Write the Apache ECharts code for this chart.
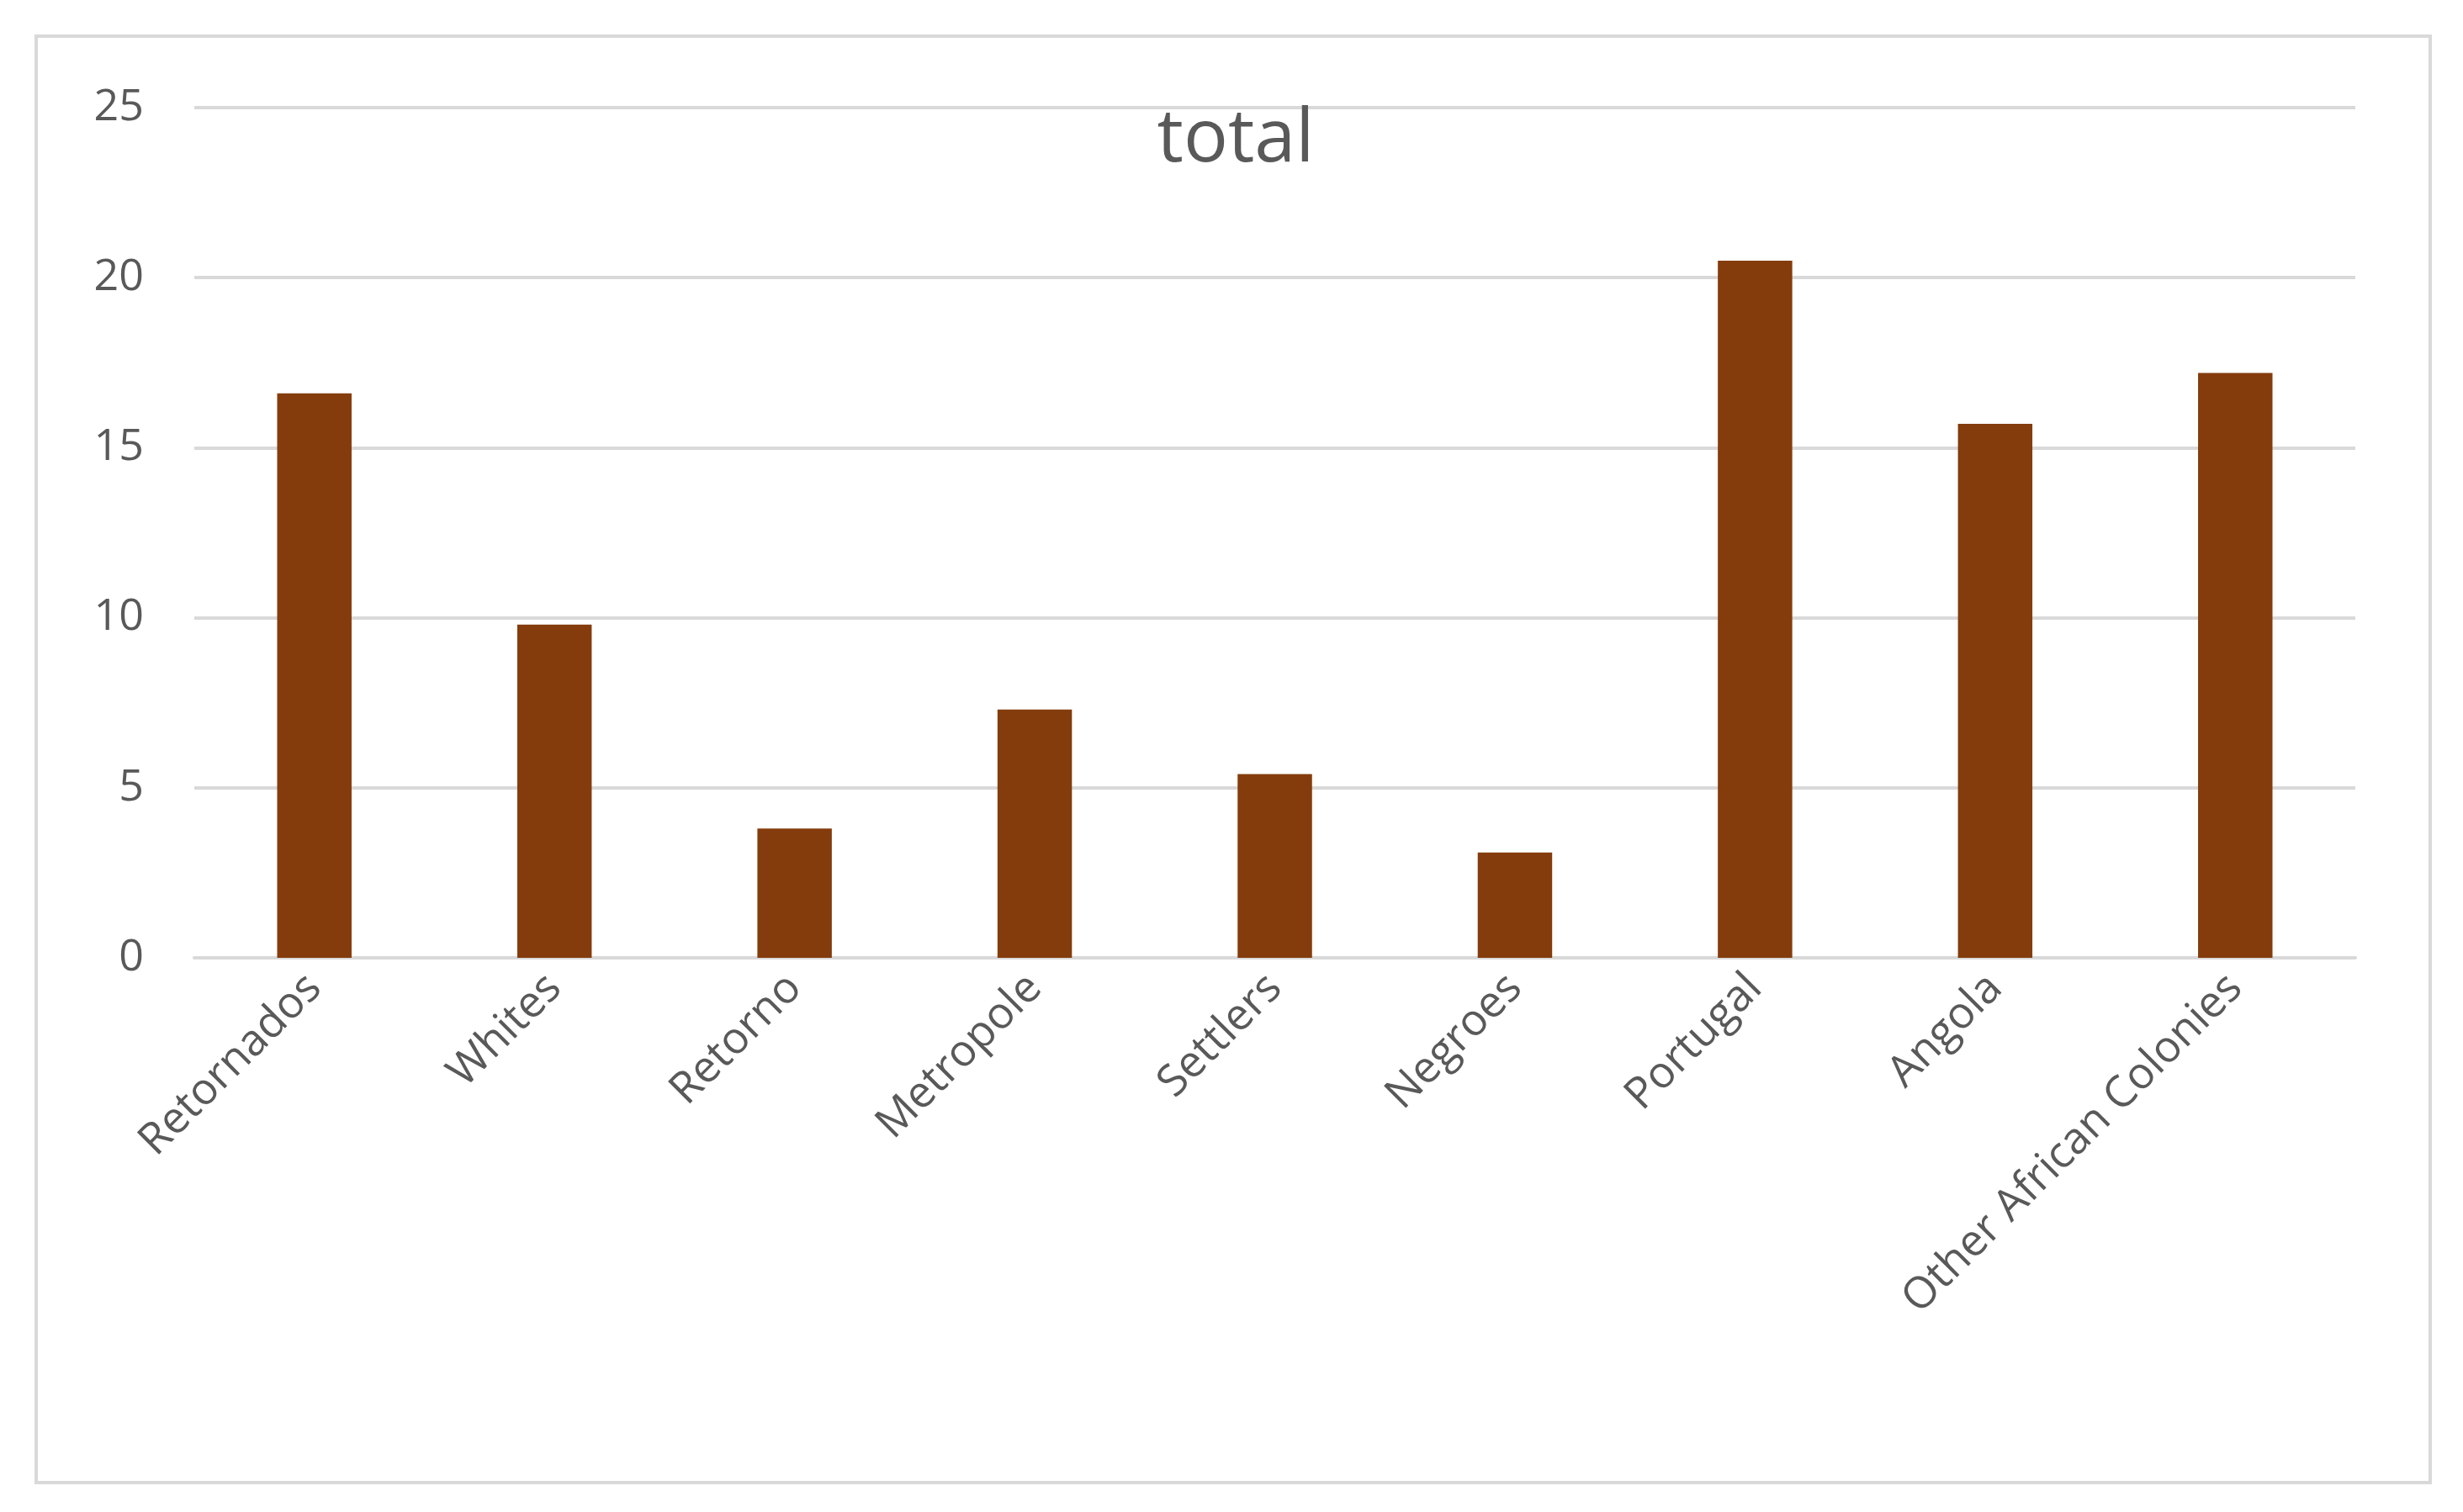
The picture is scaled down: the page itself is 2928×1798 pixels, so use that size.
<!DOCTYPE html>
<html>
<head>
<meta charset="utf-8">
<script src="https://cdn.jsdelivr.net/npm/echarts@6/dist/echarts.min.js"></script>
<style>
  html, body { margin: 0; padding: 0; background: #fff; }
  #frame { position: absolute; left: 41px; top: 41px; width: 2842px; height: 1716px; border: 4px solid #d9d9d9; }
  #chart { position: absolute; left: 0; top: 0; width: 2928px; height: 1798px; }
</style>
</head>
<body>
<div id="frame"></div>
<div id="chart"></div>
<script>
/* Data */
const categories = ["Retornados", "Whites", "Retorno", "Metropole", "Settlers", "Negroes", "Portugal", "Angola", "Other African Colonies"];
const totals = [16.6, 9.8, 3.8, 7.3, 5.4, 3.1, 20.5, 15.7, 17.2];
const yTicks = { min: 0, max: 25, interval: 5 };

const chart = echarts.init(document.getElementById("chart"));
chart.setOption({
  backgroundColor: "transparent",
  animation: false,
  textStyle: { fontFamily: "'Open Sans', 'Liberation Sans', sans-serif", color: "#595959" },
  title: {
    text: "total", left: 1464, top: 118, textAlign: "center",
    textStyle: { fontSize: 88, fontWeight: "normal", color: "#595959" }
  },
  grid: { left: 231, right: 128, top: 128, bottom: 659 },
  xAxis: {
    type: "category", data: categories,
    axisLine: { lineStyle: { color: "#d9d9d9", width: 4 } },
    axisTick: { show: false },
    axisLabel: { rotate: 45, fontSize: 52, color: "#595959", margin: 28 }
  },
  yAxis: {
    type: "value", min: yTicks.min, max: yTicks.max, interval: yTicks.interval,
    axisLine: { show: false }, axisTick: { show: false },
    axisLabel: { fontSize: 52, color: "#595959", margin: 60 },
    splitLine: { lineStyle: { color: "#d9d9d9", width: 4 } }
  },
  series: [{
    type: "bar", data: totals, barWidth: "31%",
    itemStyle: { color: "#843C0C" }
  }]
});
</script>
</body>
</html>
